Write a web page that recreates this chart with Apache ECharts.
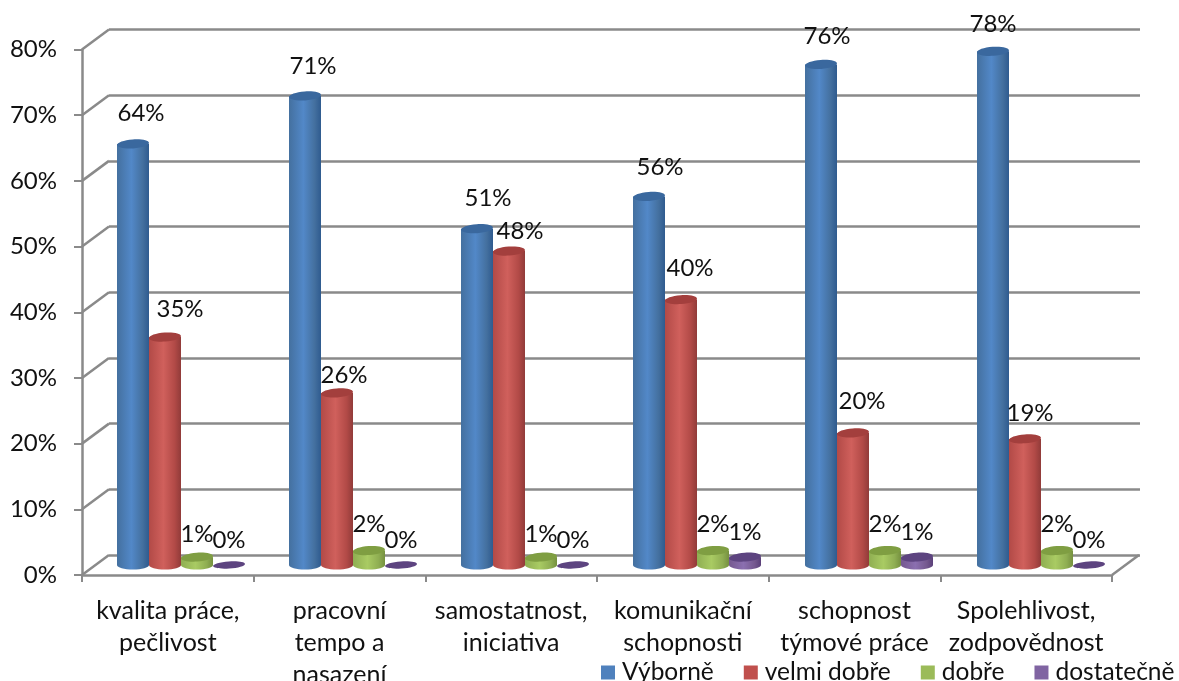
<!DOCTYPE html>
<html>
<head>
<meta charset="utf-8">
<style>html,body{margin:0;padding:0;background:#fff;overflow:hidden}#c{width:1179px;height:681px}</style>
<script src="https://cdn.jsdelivr.net/npm/echarts@6/dist/echarts.min.js"></script>
</head>
<body>
<div id="c"></div>
<script>
const categories = ['kvalita práce,\npečlivost','pracovní\ntempo a\nnasazení','samostatnost,\niniciativa','komunikační\nschopnosti','schopnost\ntýmové práce','Spolehlivost,\nzodpovědnost'];
const seriesNames = ['Výborně','velmi dobře','dobře','dostatečně'];
const vyborne = [64.1,71.4,51.2,56.1,76.2,78.2];
const velmiDobre = [34.7,26.2,47.8,40.4,20.1,19.2];
const dobre = [1.2,2.2,1.2,2.2,2.2,2.2];
const dostatecne = [0,0,0,1.2,1.2,0];
const yTicks = [0,10,20,30,40,50,60,70,80];

// layout/styling tables (not data)
const FONT = 'Lato, "Open Sans", sans-serif';
const FS = 24;
const AXIS = '#8a8a8a';
const DEPTH = [27, -20];
const TILT = 0.07;
const palette = [
  {legend:'#4F81BD', edge:'#44709f', mid:'#5288c8', dark:'#2f5b8f', top:'#3a689e'},
  {legend:'#C0504D', edge:'#b24a47', mid:'#d0605c', dark:'#913b39', top:'#a33f3d'},
  {legend:'#9BBB59', edge:'#8fae52', mid:'#a9cb63', dark:'#75903f', top:'#7f9e42'},
  {legend:'#8064A2', edge:'#75598f', mid:'#8b6fb0', dark:'#5a4079', top:'#5d4480'}
];
// label centre offset from the cylinder's top centre: one [dx,dy] per category per series
const labelNudge = [
  [[8,-31],[8,-30],[11,-30],[11,-29],[6,-28],[0,-27]],
  [[15,-28],[7,-18],[11,-20],[9,-31],[9,-32],[5,-26]],
  [[0,-23],[0,-26],[0,-23],[0,-26],[0,-26],[0,-26]],
  [[0,-25],[0,-25],[0,-25],[0,-25],[0,-25],[0,-25]]
];

const barFrac = 32 / 172;
const ry = 4.5;

function cylinder(si) {
  return function (params, api) {
    const cat = api.value(0), val = api.value(1);
    const p = palette[si];
    const catW = api.size([1, 0])[0];
    const w = catW * barFrac;
    const base = api.coord([cat, 0]);
    const top = api.coord([cat, val]);
    const cx = base[0] + (si - 1.5) * w;
    const children = [];
    const grad = {type:'linear',x:0,y:0,x2:1,y2:0,colorStops:[
      {offset:0,color:p.edge},{offset:0.45,color:p.mid},{offset:0.8,color:p.edge},{offset:1,color:p.dark}]};
    const rz = val === 0 ? 3.5 : ry;
    if (val > 0) {
      children.push({type:'ellipse',shape:{cx:cx,cy:base[1],rx:w/2,ry:rz},style:{fill:grad}});
      children.push({type:'rect',shape:{x:cx-w/2,y:top[1],width:w,height:base[1]-top[1]},style:{fill:grad}});
    }
    children.push({type:'ellipse',shape:{cx:cx,cy:top[1],rx:w/2,ry:rz},rotation:TILT,originX:cx,originY:top[1],style:{fill:p.top}});
    const n = labelNudge[si][cat];
    children.push({type:'text',x:cx+n[0],y:top[1]+n[1],z2:50,style:{
      text:Math.round(val)+'%',font:FS+'px '+FONT,fill:'#111',align:'center',verticalAlign:'middle'}});
    return {type:'group',children:children};
  };
}

function wallLines(params, api) {
  const v = api.value(0);
  const c = params.coordSys;
  const y = api.coord([0, v])[1];
  const style = {stroke:AXIS,lineWidth:2.5,fill:'none'};
  const children = [{type:'line',shape:{x1:c.x,y1:y,x2:c.x+DEPTH[0],y2:y+DEPTH[1]},style:style}];
  if (v === 0) children.push({type:'line',shape:{x1:c.x+c.width,y1:y,x2:c.x+c.width+DEPTH[0],y2:y+DEPTH[1]},style:style});
  return {type:'group',children:children};
}

const allValues = [vyborne, velmiDobre, dobre, dostatecne];
const series = [{
  type:'custom',name:'_wall',xAxisIndex:0,yAxisIndex:0,silent:true,z:1,clip:false,
  data:yTicks.map(v=>[v]),encode:{y:0},renderItem:wallLines
}];
allValues.forEach((arr, si) => {
  series.push({
    type:'custom',name:seriesNames[si],xAxisIndex:2,yAxisIndex:2,z:5+si,clip:false,
    itemStyle:{color:palette[si].legend},
    data:arr.map((v,i)=>[i,v]),encode:{x:0,y:1},renderItem:cylinder(si)
  });
});

const hiddenCat = (g) => ({type:'category',gridIndex:g,data:categories,show:false});
const hiddenVal = (g, split) => ({type:'value',gridIndex:g,min:0,max:80,interval:10,
  axisLine:{show:false},axisTick:{show:false},axisLabel:{show:false},
  splitLine:{show:split,lineStyle:{color:AXIS,width:2.5}}});

const chart = echarts.init(document.getElementById('c'));
chart.setOption({
  animation:false,
  backgroundColor:'#fff',
  grid:[
    {left:82,top:49.5,width:1030,height:525.5,outerBoundsMode:'none',containLabel:false},
    {left:109,top:29.5,width:1031,height:525.5,outerBoundsMode:'none',containLabel:false},
    {left:95,top:39.5,width:1032,height:525.5,outerBoundsMode:'none',containLabel:false}
  ],
  xAxis:[
    {type:'category',gridIndex:0,data:categories,
     axisLine:{lineStyle:{color:AXIS,width:2.5}},
     axisTick:{show:true,length:7,alignWithLabel:false,lineStyle:{color:AXIS,width:2}},
     axisLabel:{interval:0,margin:20,fontFamily:FONT,fontSize:25,color:'#111',lineHeight:32,verticalAlign:'top',hideOverlap:false}},
    hiddenCat(1),hiddenCat(2)
  ],
  yAxis:[
    {type:'value',gridIndex:0,min:0,max:80,interval:10,
     axisLine:{show:true,lineStyle:{color:AXIS,width:2.5}},
     axisTick:{show:true,length:8,lineStyle:{color:AXIS,width:2}},
     splitLine:{show:false},
     axisLabel:{margin:25,fontFamily:FONT,fontSize:FS,color:'#111',formatter:'{value}%'}},
    hiddenVal(1,true),hiddenVal(2,false)
  ],
  legend:{data:seriesNames,left:601,top:660,width:578,icon:'rect',itemWidth:14,itemHeight:14,itemGap:30,padding:0,
    selectedMode:false,textStyle:{fontFamily:FONT,fontSize:24.5,color:'#111',padding:[0,0,0,2]}},
  series:series
});
</script>
</body>
</html>
